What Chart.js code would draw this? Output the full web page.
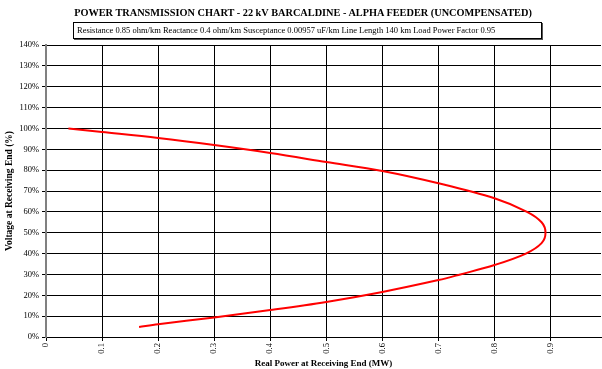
<!DOCTYPE html>
<html>
<head>
<meta charset="utf-8">
<script src="https://cdn.jsdelivr.net/npm/chart.js@4"></script>
<style>
  body { margin: 0; background: #fff; }
  #wrap { position: relative; width: 602px; height: 369px; }
  #title {
    position: absolute; left: 0; top: 7px; width: 606px; text-align: center;
    font: bold 10.3px "Liberation Serif", serif; color: #000;
  }
  #params {
    position: absolute; left: 73px; top: 22px; width: 464px; height: 15px;
    border: 1px solid #000; box-shadow: 1px 1px 0 #555;
    font: 8.5px "Liberation Serif", serif; line-height: 15px; padding-left: 3px; color: #000;
  }
  canvas { position: absolute; left: 0; top: 0; }
</style>
</head>
<body>
<div id="wrap">
  <canvas id="chart" width="602" height="369"></canvas>
  <div id="title">POWER TRANSMISSION CHART - 22 kV BARCALDINE - ALPHA FEEDER (UNCOMPENSATED)</div>
  <div id="params">Resistance 0.85 ohm/km Reactance 0.4 ohm/km Susceptance 0.00957 uF/km Line Length 140 km Load Power Factor 0.95</div>
</div>
<script>
// curve, from no-load end round the nose to the low-voltage end
const powerMW = [0.04, 0.1, 0.2, 0.3, 0.4, 0.5, 0.6, 0.7, 0.8, 0.858, 0.884, 0.891, 0.884, 0.856, 0.8, 0.739, 0.7, 0.6, 0.5, 0.4, 0.3, 0.2, 0.166];
const voltagePct = [100, 98.3, 95.4, 92.0, 88.2, 83.9, 79.6, 73.7, 66.5, 60, 55, 50, 45, 40, 34.5, 30, 27.3, 21.6, 16.8, 12.9, 9.4, 6.1, 4.8];

const xTicks = [0, 0.1, 0.2, 0.3, 0.4, 0.5, 0.6, 0.7, 0.8, 0.9];
const yTicks = [0, 10, 20, 30, 40, 50, 60, 70, 80, 90, 100, 110, 120, 130, 140];

const points = powerMW.map((p, i) => ({ x: p, y: voltagePct[i] }));
const serif = '"Liberation Serif", serif';

new Chart(document.getElementById('chart'), {
  type: 'scatter',
  data: {
    datasets: [{
      data: points,
      showLine: true,
      borderColor: '#ff0000',
      borderWidth: 2,
      pointRadius: 0,
      tension: 0.35,
      fill: false
    }]
  },
  options: {
    responsive: false,
    animation: false,
    layout: { padding: { top: 45, right: 1, left: 0, bottom: 0 } },
    plugins: { legend: { display: false }, tooltip: { enabled: false } },
    scales: {
      x: {
        type: 'linear',
        min: 0,
        max: 0.99,
        afterBuildTicks: (s) => { s.ticks = xTicks.map(v => ({ value: v })); },
        afterFit: (s) => { s.height = 32; },
        ticks: {
          autoSkip: false,
          minRotation: 90,
          maxRotation: 90,
          padding: 2,
          color: '#000',
          font: { family: serif, size: 8.5 },
          callback: (v) => v === 0 ? '0' : v.toFixed(1)
        },
        grid: { color: '#000', lineWidth: 1, tickLength: 4, drawTicks: true },
        border: { color: '#000', width: 1 },
        title: {
          display: true,
          text: 'Real Power at Receiving End (MW)',
          color: '#000',
          font: { family: serif, size: 9, weight: 'bold' },
          padding: { top: 0, bottom: 0 }
        }
      },
      y: {
        min: 0,
        max: 140,
        afterBuildTicks: (s) => { s.ticks = yTicks.map(v => ({ value: v })); },
        afterFit: (s) => { s.width = 46; },
        ticks: {
          padding: 3,
          color: '#000',
          font: { family: serif, size: 8.5 },
          callback: (v) => v + '%'
        },
        grid: { color: '#000', lineWidth: 1, tickLength: 4 },
        border: { color: '#808080', width: 2 },
        title: {
          display: true,
          text: 'Voltage at Receiving End (%)',
          color: '#000',
          font: { family: serif, size: 9.5, weight: 'bold' },
          padding: { top: 4, bottom: 2 }
        }
      }
    }
  }
});
</script>
</body>
</html>
